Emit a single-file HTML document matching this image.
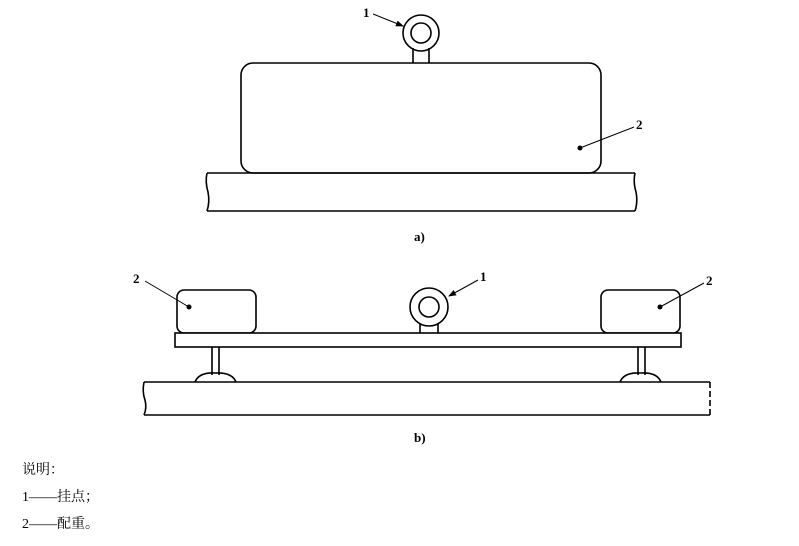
<!DOCTYPE html>
<html><head><meta charset="utf-8"><style>
html,body{margin:0;padding:0;background:#fff;}
svg{display:block;}
</style></head><body>
<svg width="799" height="546" viewBox="0 0 799 546" xmlns="http://www.w3.org/2000/svg">
<defs><marker id="ar" markerWidth="8" markerHeight="6" refX="7" refY="3" orient="auto" markerUnits="userSpaceOnUse"><path d="M0,0 L8,3 L0,6 Z" fill="#000"/></marker></defs>
<g fill="none" stroke="#000" stroke-width="1.6">
<!-- a) -->
<circle cx="421" cy="33" r="18" fill="#fff"/>
<circle cx="421" cy="33" r="10"/>
<path d="M413,48 L413,63 M429,48 L429,63"/>
<rect x="241" y="63" width="360" height="110" rx="12" fill="#fff"/>
<path d="M207,173 L635,173 M207,211 L635,211"/>
<path d="M207,173 Q205,182 208,192 Q210,202 207,211"/>
<path d="M635,173 Q633,182 636,192 Q638,202 635,211"/>
<path d="M373,14 L403,26" stroke-width="1" marker-end="url(#ar)"/>
<path d="M634,127 L580,148" stroke-width="1"/>
<!-- b) -->
<rect x="177" y="290" width="79" height="43" rx="7"/>
<rect x="601" y="290" width="79" height="43" rx="7"/>
<circle cx="429" cy="307" r="19" fill="#fff"/>
<circle cx="429" cy="307" r="10"/>
<path d="M420,324 L420,333 M438,324 L438,333"/>
<rect x="175" y="333" width="506" height="14" fill="#fff"/>
<path d="M212,347 L212,375 M219,347 L219,375 M638,347 L638,375 M645,347 L645,375"/>
<path d="M195,382 Q199,372 215,373 Q232,372 236,382"/>
<path d="M620,382 Q624,372 641,373 Q657,372 661,382"/>
<path d="M144,382 L710,382 M144,415 L710,415"/>
<path d="M144,382 Q142,392 145,400 Q147,408 144,415"/>
<path d="M710,382 L710,415" stroke-dasharray="6 3"/>
<path d="M145,281 L189,307" stroke-width="1"/>
<path d="M478,280 L449,296" stroke-width="1" marker-end="url(#ar)"/>
<path d="M704,283 L660,307" stroke-width="1"/>
</g>
<g fill="#000">
<circle cx="580" cy="148" r="2.5"/>
<circle cx="189" cy="307" r="2.5"/>
<circle cx="660" cy="307" r="2.5"/>
</g>
<g font-family="Liberation Serif, serif" font-size="13" font-weight="bold" fill="#000">
<text x="363" y="17">1</text>
<text x="636" y="129">2</text>
<text x="133" y="283">2</text>
<text x="480" y="281">1</text>
<text x="706" y="285">2</text>
<text x="414" y="241">a)</text>
<text x="414" y="442">b)</text>
</g>
<g font-family="Liberation Serif, 'Noto Serif CJK SC', serif" font-size="14" fill="#000">
<text x="22" y="474">说明：</text>
<text x="22" y="501">1——挂点；</text>
<text x="22" y="528">2——配重。</text>
</g>
</svg>
</body></html>
